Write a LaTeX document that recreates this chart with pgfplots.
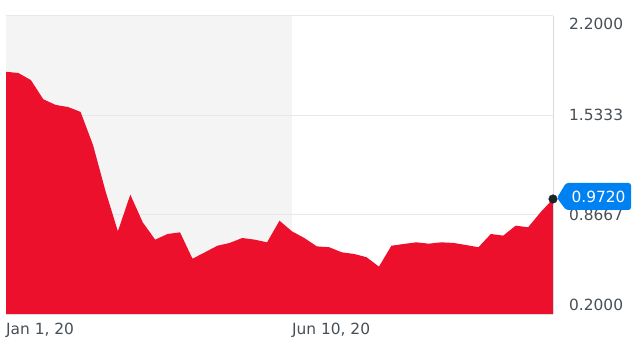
\documentclass[border=0pt]{standalone}
\usepackage{pgfplots}
\pgfplotsset{compat=1.18}
\usepackage{fontspec}
\setmainfont{DejaVu Sans}
\definecolor{ared}{HTML}{EC102D}
\definecolor{band}{HTML}{F4F4F4}
\definecolor{gridc}{HTML}{E8E8E8}
\definecolor{txt}{HTML}{464E56}
\definecolor{tagblue}{HTML}{0081F2}
\definecolor{dotc}{HTML}{1F2328}
\definecolor{axc}{HTML}{D8DBE0}
\newcommand\lf{\fontsize{15.4bp}{18bp}\selectfont}
\begin{document}
\begin{tikzpicture}
\begin{axis}[
 set layers,
 at={(0,0)}, anchor=south west,
 scale only axis, width=547bp, height=298bp,
 xmin=0, xmax=44, ymin=0.2, ymax=2.2,
 clip=false,
 axis line style={draw=none},
 major tick length=0pt, tick style={draw=none},
 ymajorgrids, grid style={gridc, line width=1bp},
 ytick={0.2,0.86667,1.53333,2.2},
 yticklabels={\raisebox{9bp}[\height][\depth]{0.2000},0.8667,1.5333,\raisebox{-8bp}[\height][\depth]{2.2000}},
 yticklabel pos=right,
 yticklabel style={anchor=west, inner sep=0pt, xshift=16bp, text=txt, font=\lf},
 xtick={0,23},
 xticklabels={{Jan 1, 20},{Jun 10, 20}},
 xticklabel style={anchor=north west, inner sep=0pt, yshift=-9bp, text=txt, font=\lf},
]
\addplot[on layer=axis background, fill=band, draw=none] coordinates {(0,0.2) (0,2.2) (23,2.2) (23,0.2)} -- cycle;
\addplot[fill=ared, draw=none] coordinates {
(0,0.2)
(0,1.826) (1,1.817) (2,1.770) (3,1.641) (4,1.603) (5,1.589) (6,1.556) (7,1.334)
(8,1.026) (9,0.755) (10,1.001) (11,0.815) (12,0.699) (13,0.737) (14,0.748)
(15,0.571) (16,0.614) (17,0.658) (18,0.677) (19,0.710) (20,0.699) (21,0.681)
(22,0.826) (23,0.755) (24,0.710) (25,0.654) (26,0.648) (27,0.614) (28,0.603)
(29,0.581) (30,0.518) (31,0.658) (32,0.670) (33,0.681) (34,0.672) (35,0.681)
(36,0.677) (37,0.663) (38,0.648) (39,0.737) (40,0.726) (41,0.793) (42,0.782)
(43,0.883) (44,0.972)
(44,0.2)} -- cycle;
\draw[axc, line width=1bp] (rel axis cs:0,0) -- (rel axis cs:1,0);
\draw[axc, line width=1bp] (rel axis cs:1,0) -- (rel axis cs:1,1);
\fill[tagblue, rounded corners=2.5bp] (axis cs:44,0.972) ++(4bp,1bp) -- ++(9bp,15bp) -- ++(65bp,0bp) -- ++(0bp,-27bp) -- ++(-65bp,0bp) -- cycle;
\path (axis cs:44,0.972) ++(45.5bp,2.5bp) node[anchor=center, inner sep=0pt, text=white, font=\lf] {0.9720};
\addplot[only marks, mark=*, mark size=4.3bp, dotc] coordinates {(44,0.972)};
\end{axis}
\pgfresetboundingbox
\useasboundingbox (-6bp,-34bp) rectangle (633bp,314bp);
\end{tikzpicture}
\end{document}
